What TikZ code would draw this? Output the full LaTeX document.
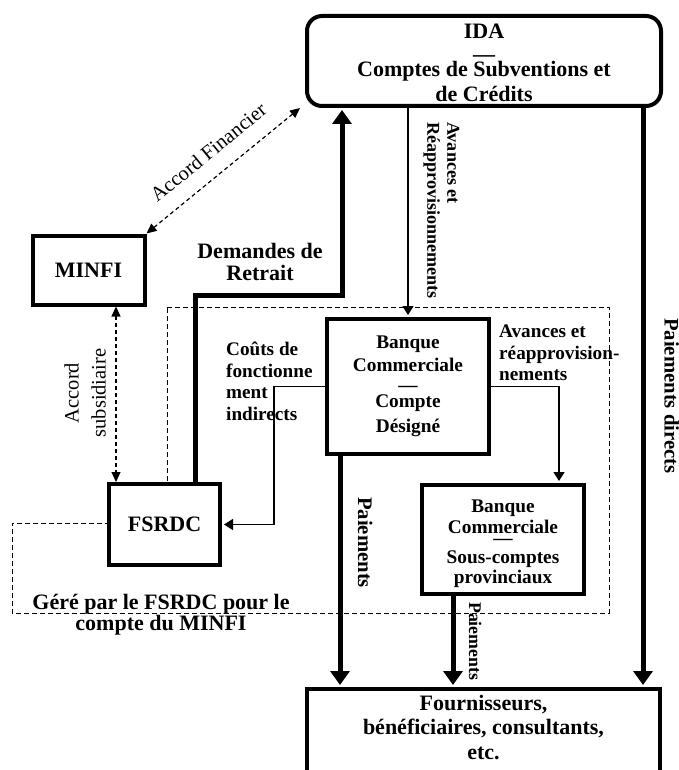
\documentclass[tikz,border=0pt]{standalone}
\usepackage{fontspec}
\setmainfont{Liberation Serif}
\usetikzlibrary{arrows.meta}

\begin{document}
\begin{tikzpicture}[x=1pt,y=-1pt,
  box/.style={draw,line width=4pt,fill=white,align=center,inner sep=0pt,font=\fontsize{22}{22}\selectfont\bfseries},
  bankbox/.style={box,font=\fontsize{19.3}{22}\selectfont\bfseries},
  lbl/.style={inner sep=0pt,font=\fontsize{22}{22}\selectfont\bfseries},
  smalllbl/.style={inner sep=0pt,align=left,anchor=north west,font=\fontsize{19.2}{22}\selectfont\bfseries},
  plainlbl/.style={inner sep=0pt,font=\fontsize{20.5}{22}\selectfont},
  frame/.style={line width=1pt,dash pattern=on 5pt off 3pt},
  smallarrow/.style={line width=1.5pt,shorten >=2pt,-{Triangle[length=9pt,width=11pt]}},
  bigarrow/.style={line width=5pt,shorten >=2pt,-{Triangle[length=14pt,width=19pt]}},
  dasharrow/.style={line width=1.2pt,dash pattern=on 4pt off 3pt,{Triangle[length=10pt,width=9pt]}-{Triangle[length=10pt,width=9pt]}}]
\useasboundingbox (0,0) rectangle (679,770);
\clip (0,0) rectangle (679,770);
\draw[frame] (167,307) -- (609,307) -- (609,613) -- (12,613) -- (12,523) -- (167,523) -- cycle;
\node[box,rounded corners=15pt,minimum width=354pt,minimum height=90pt] (ida) at (484,61) {\rule{0pt}{19pt}IDA\\[0.5pt]—\\[-6.5pt]Comptes de Subventions et\\[3pt]de Crédits};
\node[box,minimum width=112pt,minimum height=69pt] (minfi) at (88.5,270) {MINFI};
\node[box,minimum width=111pt,minimum height=81pt] (fsrdc) at (164.5,524.5) {FSRDC};
\node[bankbox,minimum width=162pt,minimum height=135pt] (banque) at (408,386.5) {Banque\\[1pt]Commerciale\\[-2.5pt]—\\[-5.5pt]Compte\\[3pt]Désigné};
\node[bankbox,minimum width=162pt,minimum height=109pt] (souscpt) at (503,539.5) {\rule{0pt}{22pt}Banque\\[-1pt]Commerciale\\[-11.5pt]—\\[-2.5pt]Sous-comptes\\[-2pt]provinciaux};
\node[box,anchor=north,minimum width=353pt,minimum height=120pt] (fourn) at (483.5,687) {};
\node[lbl,align=center,anchor=north] (fourntxt) at (483.5,695) {Fournisseurs,\\[2.5pt]bénéficiaires, consultants,\\[2.5pt]etc.};
\draw[dasharrow] (minfi.north east) -- node[plainlbl,sloped,above=16pt] (accfintxt) {Accord Financier} ([xshift=-5pt]ida.south west);
\draw[dasharrow] ([xshift=27.5pt]minfi.south) -- ([xshift=27.5pt]minfi.south |- fsrdc.north);
\node[plainlbl,rotate=90,align=center] (accsubtxt) at (85,393) {Accord\\[5pt]subsidiaire};
\draw[bigarrow] ([xshift=30.5pt]fsrdc.north) -- ++(0,-187) -| ([xshift=-142pt]ida.south);
\node[lbl,align=center,anchor=north] (demtxt) at (260,243) {Demandes de\\Retrait};
\draw[smallarrow] (ida.south -| banque.north) -- (banque.north);
\node[inner sep=0pt,rotate=-90,anchor=north west,align=left,font=\fontsize{18.1}{20}\selectfont\bfseries] (avtxt) at (459.5,122) {Avances et\\Réapprovisionnements};
\draw[bigarrow] ([xshift=159pt]ida.south) -- ([xshift=159pt]ida.south |- fourn.north);
\node[lbl,rotate=-90,anchor=base west,font=\fontsize{20.7}{22}\selectfont\bfseries] (paiedirtxt) at (664.5,318) {Paiements directs};
\draw[smallarrow] (banque.west) -- ++(-51,0) |- (fsrdc.east);
\node[smalllbl] (coutstxt) at (226,342) {Coûts de\\[-0.5pt]fonctionne\\[-0.5pt]ment\\indirects};
\draw[smallarrow] (banque.east) -| ([xshift=56pt]souscpt.north);
\node[smalllbl] (avdtxt) at (499,325) {Avances et\\[-0.5pt]réapprovision-\\[-0.5pt]nements};
\draw[bigarrow] ([xshift=-68pt]banque.south) -- ([xshift=-68pt]banque.south |- fourn.north);
\node[lbl,rotate=-90,anchor=base west,font=\fontsize{20.7}{22}\selectfont\bfseries] (paie1txt) at (358,497) {Paiements};
\draw[bigarrow] ([xshift=-50pt]souscpt.south) -- ([xshift=-50pt]souscpt.south |- fourn.north);
\node[lbl,rotate=-90,anchor=base west,font=\fontsize{17.8}{22}\selectfont\bfseries] (paie2txt) at (469,602) {Paiements};
\node[lbl,align=center,anchor=north] (geretxt) at (161,594) {Géré par le FSRDC pour le\\[-1pt]compte du MINFI};
\end{tikzpicture}
\end{document}
